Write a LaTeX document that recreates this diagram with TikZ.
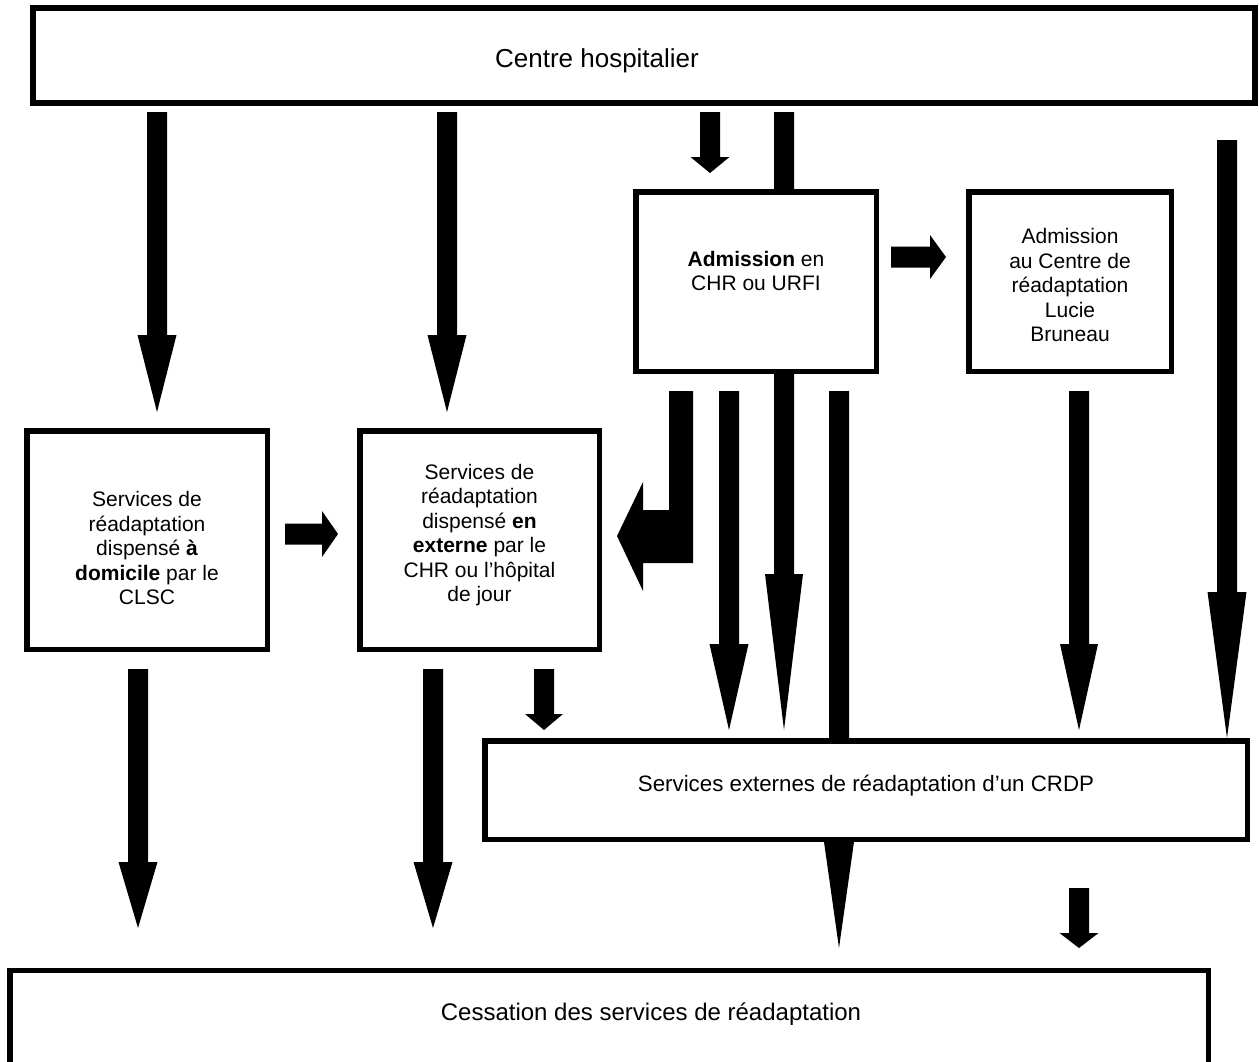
\documentclass[tikz,border=0pt]{standalone}
\usepackage{fontspec}
\setmainfont{Liberation Sans}
\newcommand\mydownarrow[6]{% x, shaft width, top, head start, tip, head width
  \fill ({#1-#2/2},#3) -- ({#1+#2/2},#3) -- ({#1+#2/2},#4) -- ({#1+#6/2},#4) -- (#1,#5) -- ({#1-#6/2},#4) -- ({#1-#2/2},#4) -- cycle;}
\newcommand\myrightarrow[6]{% x start, head start, tip, y centre, shaft height, head height
  \fill (#1,{#4-#5/2}) -- (#2,{#4-#5/2}) -- (#2,{#4-#6/2}) -- (#3,#4) -- (#2,{#4+#6/2}) -- (#2,{#4+#5/2}) -- (#1,{#4+#5/2}) -- cycle;}
\begin{document}
\begin{tikzpicture}[x=1pt,y=-1pt,
  box/.style={draw=black,line width=5.5pt,fill=white,inner sep=0pt,minimum width=#1},
  boxtext/.style={align=center,inner sep=0pt,font=\fontsize{21}{24.5}\selectfont},
]
\useasboundingbox[fill=white] (0,0) rectangle (1259,1061);
% arrows (drawn beneath the boxes)
\mydownarrow{157}{20}{112}{335}{412}{39}
\mydownarrow{447}{20}{112}{335}{412}{39}
\mydownarrow{710}{20}{112}{157}{173}{39}
\mydownarrow{784}{20}{112}{574}{730}{38}
\mydownarrow{1227}{20}{140}{592}{738}{39}
\mydownarrow{1079}{20}{391}{644}{730}{38}
\mydownarrow{729}{20}{391}{644}{730}{39}
\mydownarrow{839}{20}{391}{810}{948}{39}
\mydownarrow{138}{20}{669}{862}{928}{39}
\mydownarrow{433}{20}{669}{862}{928}{39}
\mydownarrow{544}{20}{669}{714}{730}{38}
\mydownarrow{1079}{20}{888}{933}{948}{39}
\myrightarrow{285}{322}{338}{534}{21}{46}
\myrightarrow{891}{930}{946}{257}{21}{44}
% bent arrow
\fill (669,391) -- (693,391) -- (693,563) -- (643,563) -- (643,591) -- (617,536) -- (643,482) -- (643,510) -- (669,510) -- cycle;
% boxes
\node[box=1222pt,line width=6pt,minimum height=95pt] (ch) at (644,55.5) {};
\node[box=240.5pt,minimum height=179.5pt] (adm) at (756,281.5) {};
\node[box=202.5pt,minimum height=179.5pt] (lb) at (1070,281.5) {};
\node[box=240.5pt,minimum height=218.5pt] (dom) at (147,540) {};
\node[box=239.5pt,minimum height=218.5pt] (ext) at (479.5,540) {};
\node[box=762.5pt,minimum height=98.5pt] (crdp) at (866,790) {};
\node[box=1198.5pt,minimum height=95pt] (ces) at (609,1018) {};
% texts
\node[boxtext,font=\fontsize{26}{30}\selectfont] (tch) at (597,61) {Centre hospitalier};
\node[boxtext] (tadm) at (756,271) {\textbf{Admission} en\\CHR ou URFI};
\node[boxtext] (tlb) at (1070,285) {Admission\\au Centre de\\réadaptation\\Lucie\\Bruneau};
\node[boxtext] (tdom) at (147,548) {Services de\\réadaptation\\dispensé \textbf{à}\\\textbf{domicile} par le\\CLSC};
\node[boxtext] (text) at (479.5,535) {Services de\\réadaptation\\dispensé \textbf{en}\\\textbf{externe} par le\\CHR ou l’hôpital\\de jour};
\node[boxtext,font=\fontsize{22.3}{26}\selectfont] (tcrdp) at (866,786) {Services externes de réadaptation d’un CRDP};
\node[boxtext,font=\fontsize{24}{28}\selectfont] (tces) at (651,1014) {Cessation des services de réadaptation};
\end{tikzpicture}
\end{document}
